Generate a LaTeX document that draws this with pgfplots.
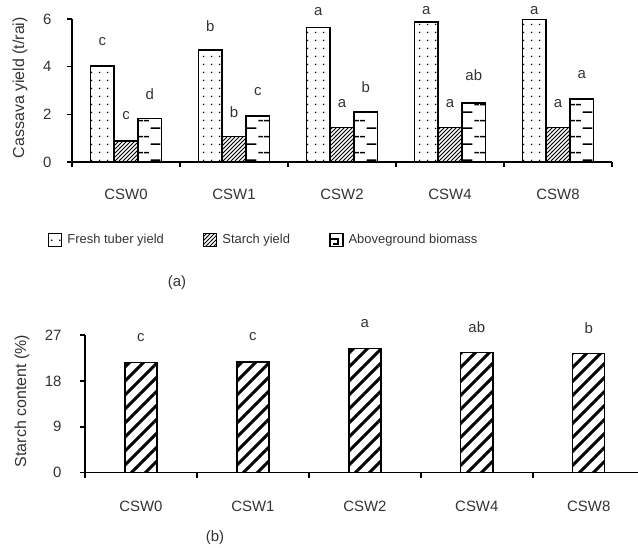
\documentclass[border=0pt]{standalone}
\usepackage{fontspec}
\setmainfont{Liberation Sans}
\usepackage{pgfplots}
\pgfplotsset{compat=1.18}
\usetikzlibrary{patterns}

\pgfdeclarepatternformonly{sparsedots}{\pgfqpoint{0bp}{0bp}}{\pgfqpoint{8bp}{8bp}}{\pgfqpoint{8bp}{8bp}}{\pgfpathcircle{\pgfqpoint{4bp}{4bp}}{0.9bp}\pgfusepath{fill}}
\pgfdeclarepatternformonly{finediag}{\pgfqpoint{-1bp}{-1bp}}{\pgfqpoint{5bp}{5bp}}{\pgfqpoint{4bp}{4bp}}{\pgfsetlinewidth{0.8bp}\pgfpathmoveto{\pgfqpoint{0bp}{0bp}}\pgfpathlineto{\pgfqpoint{4.05bp}{4.05bp}}\pgfusepath{stroke}}
\pgfdeclarepatternformonly{thickdiag}{\pgfqpoint{-2bp}{-2bp}}{\pgfqpoint{16bp}{16bp}}{\pgfqpoint{14bp}{14bp}}{\pgfsetlinewidth{3bp}\pgfpathmoveto{\pgfqpoint{0bp}{0bp}}\pgfpathlineto{\pgfqpoint{14bp}{14bp}}\pgfusepath{stroke}}
\pgfdeclarepatternformonly{hdashes}{\pgfqpoint{0bp}{0bp}}{\pgfqpoint{24bp}{16bp}}{\pgfqpoint{24bp}{16bp}}{\pgfsetlinewidth{1.6bp}\pgfpathmoveto{\pgfqpoint{7bp}{4bp}}\pgfpathlineto{\pgfqpoint{17bp}{4bp}}\pgfpathmoveto{\pgfqpoint{0bp}{12bp}}\pgfpathlineto{\pgfqpoint{5bp}{12bp}}\pgfpathmoveto{\pgfqpoint{19bp}{12bp}}\pgfpathlineto{\pgfqpoint{24bp}{12bp}}\pgfusepath{stroke}}

\definecolor{txt}{gray}{0.2}

\pgfplotsset{
  common/.style={
    scale only axis, anchor=south west, clip=false,
    axis x line=bottom, axis y line=left,
    axis line style={-, line width=1.6bp, black},
    tick align=outside, major tick length=5bp,
    tick style={line width=1.6bp, black},
    xticklabels={},
    extra x ticks={0,1,2,3,4},
    extra x tick labels={CSW0,CSW1,CSW2,CSW4,CSW8},
    tick label style={font=\fontsize{15}{17}\selectfont, text=txt},
    /pgf/number format/assume math mode=true,
    ylabel style={font=\fontsize{16}{18}\selectfont, text=txt, anchor=center},
  },
  letters/.style={forget plot, only marks, mark=none, nodes near coords,
    point meta=explicit symbolic,
    every node near coord/.append style={anchor=center, font=\fontsize{15}{17}\selectfont, text=txt}},
}

\begin{document}
\begin{tikzpicture}
\path[use as bounding box] (0,0) rectangle (638bp,548bp);

% ---------- panel (a)
\begin{axis}[common,
  at={(72bp,386bp)}, width=540bp, height=143bp,
  xmin=-0.5, xmax=4.5, ymin=0, ymax=6,
  xtick={-0.5,0.5,1.5,2.5,3.5,4.5},
  extra x tick style={major tick length=0pt, tick label style={yshift=-24bp}},
  ytick={0,2,4,6},
  y tick label style={xshift=-12bp},
  ylabel={Cassava yield (t/rai)},
  ylabel style={at={(axis description cs:-0.0963,0.52)}},
  legend style={draw=none, at={(0.355,-0.545)}, anchor=center,
    font=\fontsize{13}{15}\selectfont, text=txt,
    /tikz/every odd column/.append style={column sep=3bp},
    /tikz/every even column/.append style={column sep=37bp}},
  legend columns=3, legend cell align=left,
  legend image code/.code={\draw[#1, line width=1.5bp] (0bp,-6.5bp) rectangle (13bp,6.5bp);},
]
\addplot[ybar, bar width=0.22, bar shift=-0.22, draw=black, line width=1.5bp, pattern=sparsedots]
  coordinates {(0,4.02) (1,4.70) (2,5.64) (3,5.87) (4,5.98)};
\addlegendentry{Fresh tuber yield}
\addplot[ybar, bar width=0.22, bar shift=0, draw=black, line width=1.5bp, pattern=finediag]
  coordinates {(0,0.88) (1,1.06) (2,1.44) (3,1.44) (4,1.45)};
\addlegendentry{Starch yield}
\addplot[ybar, bar width=0.22, bar shift=0.22, draw=black, line width=1.5bp, pattern=hdashes,
  legend image code/.code={\draw[line width=1.5bp] (0bp,-6.5bp) rectangle (13bp,6.5bp);
    \draw[line width=1.6bp] (0bp,1bp) -- (8bp,1bp) -- (8bp,-4bp) -- (3bp,-4bp);}]
  coordinates {(0,1.82) (1,1.92) (2,2.10) (3,2.48) (4,2.65)};
\addlegendentry{Aboveground biomass}
\addplot[letters] coordinates {
  (-0.22,5.04)[c] (0.78,5.72)[b] (1.78,6.31)[a] (2.78,6.34)[a] (3.78,6.34)[a]
  (0,1.93)[c] (1,2.10)[b] (2,2.47)[a] (3,2.47)[a] (4,2.47)[a]
  (0.22,2.85)[d] (1.22,2.95)[c] (2.22,3.16)[b] (3.22,3.65)[ab] (4.22,3.69)[a]
};
\end{axis}

% ---------- panel (b)
\begin{axis}[common,
  at={(85bp,75.3bp)}, width=553bp, height=137.7bp,
  xmin=-0.5, xmax=4.44, ymin=0, ymax=27,
  xtick={-0.5,0.5,1.5,2.5,3.5},
  extra x tick style={major tick length=0pt, tick label style={yshift=-25bp}},
  ytick={0,9,18,27},
  y tick label style={xshift=-15bp},
  ylabel={Starch content (\%)},
  ylabel style={at={(axis description cs:-0.114,0.52)}},
]
\addplot[ybar, bar width=0.286, bar shift=0, draw=black, line width=1.4bp, pattern=thickdiag]
  coordinates {(0,21.6) (1,21.7) (2,24.4) (3,23.6) (4,23.4)};
\addplot[letters] coordinates {
  (0,26.5)[c] (1,26.7)[c] (2,29.3)[a] (3,28.6)[ab] (4,28.3)[b]
};
\end{axis}

\node[font=\fontsize{15}{17}\selectfont, text=txt] at (177bp,265bp) {(a)};
\node[font=\fontsize{15}{17}\selectfont, text=txt] at (215bp,10bp) {(b)};
\end{tikzpicture}
\end{document}
